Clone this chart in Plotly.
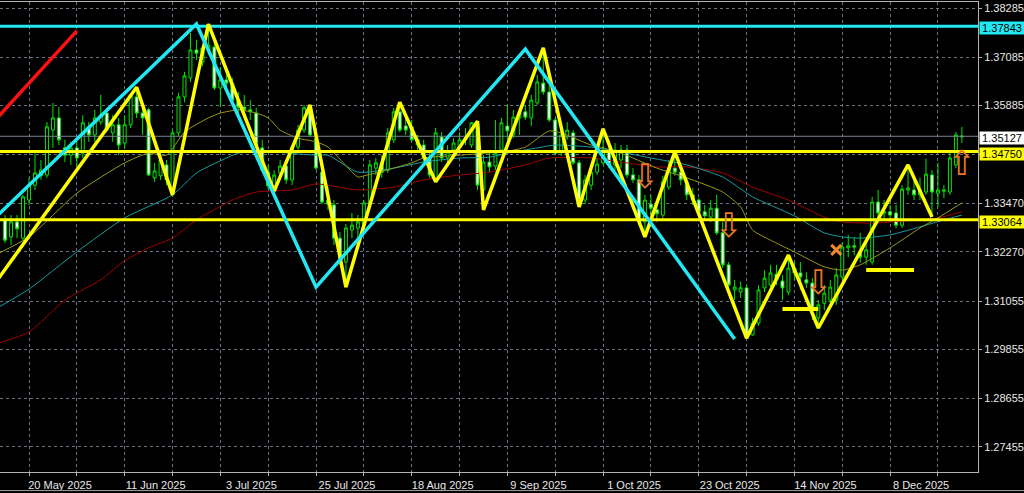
import pandas as pd
import plotly.graph_objects as go

# ---------------- data ----------------
first_bar = "2025-05-14"
opens = [1.3306,1.3264,1.3301,1.3261,1.3355,1.3392,1.3415,1.3417,1.3528,1.3558,
 1.3484,1.3466,1.3484,1.3471,1.3536,1.3516,1.3548,1.3570,1.3521,1.3541,
 1.3496,1.3541,1.3610,1.3570,1.3578,1.3410,1.3415,1.3442,1.3385,1.3521,
 1.3610,1.3657,1.3726,1.3696,1.3726,1.3733,1.3632,1.3652,1.3644,1.3602,
 1.3585,1.3578,1.3570,1.3484,1.3424,1.3390,1.3422,1.3439,1.3405,1.3486,
 1.3528,1.3578,1.3508,1.3424,1.3355,1.3343,1.3261,1.3202,1.3281,1.3286,
 1.3293,1.3348,1.3434,1.3447,1.3429,1.3504,1.3573,1.3538,1.3536,1.3504,
 1.3491,1.3461,1.3410,1.3511,1.3459,1.3479,1.3484,1.3504,1.3491,1.3541,
 1.3380,1.3449,1.3439,1.3479,1.3538,1.3516,1.3558,1.3573,1.3558,1.3595,
 1.3644,1.3622,1.3553,1.3474,1.3511,1.3521,1.3447,1.3355,1.3392,1.3424,
 1.3447,1.3474,1.3442,1.3454,1.3479,1.3417,1.3405,1.3301,1.3345,1.3331,
 1.3318,1.3387,1.3434,1.3424,1.3400,1.3368,1.3355,1.3326,1.3313,1.3335,
 1.3274,1.3195,1.3133,1.3128,1.3138,1.3022,1.3051,1.3138,1.3145,1.3172,
 1.3155,1.3128,1.3187,1.3175,1.3158,1.3150,1.3064,1.3100,1.3108,1.3108,
 1.3165,1.3237,1.3242,1.3224,1.3214,1.3202,1.3350,1.3323,1.3326,1.3323,
 1.3293,1.3380,1.3380,1.3368,1.3375,1.3417,1.3372,1.3377,1.3375,1.3442,
 1.3511]
highs = [1.3318,1.3318,1.3318,1.3368,1.3410,1.3471,1.3454,1.3548,1.3595,1.3585,
 1.3504,1.3499,1.3499,1.3565,1.3548,1.3578,1.3615,1.3583,1.3565,1.3558,
 1.3565,1.3620,1.3634,1.3590,1.3583,1.3447,1.3479,1.3454,1.3528,1.3620,
 1.3672,1.3768,1.3751,1.3738,1.3790,1.3751,1.3684,1.3664,1.3657,1.3622,
 1.3615,1.3602,1.3583,1.3504,1.3442,1.3429,1.3454,1.3454,1.3491,1.3541,
 1.3590,1.3590,1.3516,1.3434,1.3387,1.3355,1.3276,1.3296,1.3323,1.3318,
 1.3355,1.3454,1.3459,1.3466,1.3533,1.3583,1.3597,1.3558,1.3553,1.3516,
 1.3504,1.3479,1.3533,1.3523,1.3491,1.3508,1.3523,1.3533,1.3548,1.3550,
 1.3466,1.3479,1.3553,1.3558,1.3590,1.3578,1.3583,1.3590,1.3615,1.3664,
 1.3731,1.3639,1.3558,1.3533,1.3548,1.3528,1.3454,1.3417,1.3442,1.3459,
 1.3531,1.3504,1.3496,1.3491,1.3491,1.3434,1.3417,1.3368,1.3368,1.3355,
 1.3415,1.3454,1.3474,1.3442,1.3410,1.3385,1.3360,1.3343,1.3355,1.3368,
 1.3301,1.3202,1.3158,1.3153,1.3145,1.3064,1.3145,1.3182,1.3195,1.3195,
 1.3170,1.3219,1.3202,1.3202,1.3177,1.3162,1.3108,1.3145,1.3158,1.3187,
 1.3251,1.3269,1.3264,1.3274,1.3256,1.3363,1.3380,1.3355,1.3343,1.3343,
 1.3392,1.3442,1.3405,1.3410,1.3457,1.3429,1.3447,1.3392,1.3479,1.3523,
 1.3536]
lows = [1.3249,1.3244,1.3261,1.3256,1.3343,1.3380,1.3405,1.3410,1.3484,1.3491,
 1.3449,1.3442,1.3434,1.3459,1.3499,1.3499,1.3541,1.3523,1.3499,1.3466,
 1.3484,1.3533,1.3558,1.3516,1.3415,1.3400,1.3405,1.3392,1.3368,1.3513,
 1.3597,1.3647,1.3701,1.3686,1.3714,1.3627,1.3585,1.3627,1.3590,1.3565,
 1.3565,1.3553,1.3484,1.3424,1.3382,1.3377,1.3405,1.3395,1.3392,1.3479,
 1.3521,1.3511,1.3429,1.3345,1.3331,1.3244,1.3195,1.3140,1.3261,1.3256,
 1.3276,1.3343,1.3417,1.3410,1.3422,1.3496,1.3523,1.3516,1.3499,1.3479,
 1.3449,1.3410,1.3400,1.3449,1.3447,1.3466,1.3474,1.3491,1.3484,1.3380,
 1.3331,1.3424,1.3429,1.3474,1.3504,1.3508,1.3516,1.3553,1.3538,1.3590,
 1.3615,1.3548,1.3466,1.3464,1.3504,1.3442,1.3338,1.3345,1.3380,1.3417,
 1.3442,1.3434,1.3429,1.3434,1.3410,1.3397,1.3293,1.3264,1.3311,1.3301,
 1.3311,1.3380,1.3415,1.3392,1.3355,1.3343,1.3318,1.3306,1.3301,1.3269,
 1.3187,1.3138,1.3108,1.3113,1.3014,1.3020,1.3044,1.3128,1.3133,1.3145,
 1.3108,1.3120,1.3158,1.3133,1.3138,1.3059,1.3039,1.3083,1.3100,1.3096,
 1.3158,1.3214,1.3219,1.3200,1.3195,1.3195,1.3311,1.3306,1.3301,1.3286,
 1.3286,1.3368,1.3355,1.3355,1.3368,1.3313,1.3338,1.3360,1.3368,1.3434,
 1.3496]
closes = [1.3256,1.3301,1.3284,1.3363,1.3392,1.3422,1.3429,1.3536,1.3558,1.3504,
 1.3466,1.3484,1.3459,1.3546,1.3516,1.3558,1.3565,1.3528,1.3541,1.3491,
 1.3541,1.3615,1.3570,1.3558,1.3417,1.3427,1.3454,1.3405,1.3521,1.3610,
 1.3662,1.3726,1.3718,1.3731,1.3738,1.3632,1.3652,1.3644,1.3602,1.3585,
 1.3578,1.3573,1.3491,1.3429,1.3390,1.3417,1.3439,1.3405,1.3486,1.3528,
 1.3583,1.3516,1.3434,1.3350,1.3345,1.3261,1.3212,1.3286,1.3293,1.3301,
 1.3348,1.3442,1.3447,1.3424,1.3521,1.3573,1.3528,1.3528,1.3504,1.3491,
 1.3459,1.3417,1.3521,1.3459,1.3474,1.3496,1.3504,1.3508,1.3546,1.3392,
 1.3449,1.3437,1.3471,1.3546,1.3526,1.3560,1.3570,1.3560,1.3602,1.3647,
 1.3622,1.3553,1.3471,1.3516,1.3528,1.3447,1.3355,1.3405,1.3424,1.3444,
 1.3479,1.3442,1.3479,1.3479,1.3417,1.3405,1.3301,1.3355,1.3335,1.3321,
 1.3400,1.3434,1.3424,1.3405,1.3368,1.3355,1.3326,1.3316,1.3335,1.3274,
 1.3195,1.3145,1.3140,1.3138,1.3022,1.3051,1.3133,1.3162,1.3175,1.3158,
 1.3138,1.3187,1.3175,1.3165,1.3150,1.3088,1.3096,1.3125,1.3140,1.3170,
 1.3239,1.3242,1.3239,1.3214,1.3232,1.3350,1.3323,1.3326,1.3318,1.3293,
 1.3382,1.3385,1.3368,1.3380,1.3419,1.3375,1.3380,1.3380,1.3459,1.3516,
 1.3513]

# moving averages
ma_fast_dates = ["2025-05-13","2025-05-20","2025-05-30","2025-06-11","2025-06-17","2025-06-20",
 "2025-06-25","2025-07-01","2025-07-03","2025-07-08","2025-07-11","2025-07-15","2025-07-17",
 "2025-07-22","2025-07-25","2025-07-29","2025-08-05","2025-08-06","2025-08-08","2025-08-13",
 "2025-08-18","2025-08-20","2025-08-28","2025-09-09","2025-09-12","2025-09-18","2025-09-22",
 "2025-09-29","2025-10-01","2025-10-06","2025-10-14","2025-10-21","2025-10-29","2025-11-03",
 "2025-11-05","2025-11-10","2025-11-14","2025-11-21","2025-11-26","2025-12-01","2025-12-08",
 "2025-12-15","2025-12-18","2025-12-24"]
ma_fast = [1.3224,1.3264,1.3372,1.3447,1.3471,1.3466,1.3523,1.3558,1.3570,1.3578,1.3570,1.3558,
 1.3528,1.3508,1.3499,1.3486,1.3412,1.3415,1.3422,1.3434,1.3447,1.3459,1.3466,1.3476,1.3486,
 1.3526,1.3521,1.3491,1.3484,1.3471,1.3434,1.3410,1.3375,1.3338,1.3281,1.3256,1.3227,1.3190,
 1.3182,1.3195,1.3237,1.3286,1.3311,1.3348]
ma_mid_dates = ["2025-05-13","2025-05-20","2025-05-30","2025-06-11","2025-06-23","2025-06-27",
 "2025-07-03","2025-07-08","2025-07-15","2025-07-25","2025-07-29","2025-08-05","2025-08-13",
 "2025-08-20","2025-08-28","2025-09-04","2025-09-09","2025-09-16","2025-09-19","2025-09-29",
 "2025-10-06","2025-10-13","2025-10-21","2025-10-29","2025-11-05","2025-11-14","2025-11-21",
 "2025-11-26","2025-12-01","2025-12-08","2025-12-15","2025-12-19","2025-12-24"]
ma_mid = [1.3091,1.3135,1.3227,1.3311,1.3368,1.3422,1.3452,1.3471,1.3474,1.3466,1.3466,1.3424,
 1.3434,1.3449,1.3459,1.3461,1.3471,1.3484,1.3491,1.3486,1.3474,1.3459,1.3442,1.3412,1.3363,
 1.3316,1.3274,1.3264,1.3261,1.3269,1.3289,1.3306,1.3318]
ma_slow_dates = ["2025-05-13","2025-05-20","2025-05-28","2025-06-05","2025-06-11","2025-06-17",
 "2025-06-23","2025-06-27","2025-07-07","2025-07-11","2025-07-21","2025-07-25","2025-08-05",
 "2025-08-13","2025-08-20","2025-08-28","2025-09-04","2025-09-12","2025-09-18","2025-09-29",
 "2025-10-06","2025-10-14","2025-10-21","2025-10-29","2025-11-05","2025-11-13","2025-11-21",
 "2025-11-26","2025-12-03","2025-12-10","2025-12-18","2025-12-24"]
ma_slow = [1.3002,1.3029,1.3108,1.3158,1.3205,1.3237,1.3261,1.3306,1.3355,1.3375,1.3380,1.3395,
 1.3380,1.3387,1.3405,1.3417,1.3424,1.3442,1.3459,1.3459,1.3449,1.3437,1.3437,1.3422,1.3387,
 1.3355,1.3313,1.3301,1.3298,1.3303,1.3311,1.3326]

# zigzags and drawn lines
zz_dates = ["2025-05-12","2025-06-13","2025-06-23","2025-07-01","2025-07-16","2025-07-24",
 "2025-08-01","2025-08-14","2025-08-22","2025-09-02","2025-09-03","2025-09-17","2025-09-25",
 "2025-10-01","2025-10-10","2025-10-17","2025-11-04","2025-11-13","2025-11-20","2025-12-11",
 "2025-12-17"]
zz_prices = [1.3143,1.3634,1.3368,1.3790,1.3377,1.3590,1.3140,1.3597,1.3400,1.3550,1.3331,
 1.3731,1.3338,1.3531,1.3264,1.3474,1.3014,1.3219,1.3039,1.3442,1.3313]
wzz_dates = ["2025-04-25","2025-06-27","2025-07-25","2025-09-12","2025-10-31"]
wzz_prices = [1.3150,1.3790,1.3140,1.3728,1.3012]
trend_dates = ["2025-05-09","2025-05-30"]
trend_prices = [1.3531,1.3773]

level_cyan = 1.37843
levels_yellow = [1.34750, 1.33064]
bid = 1.35127
seg_starts = ["2025-11-12","2025-12-02"]
seg_ends = ["2025-11-20","2025-12-12"]
seg_prices = [1.3086, 1.3182]

down_dates = ["2025-10-10","2025-10-30","2025-11-20"]
down_prices = [1.3405, 1.3284, 1.3143]
up_dates = ["2025-12-24"]
up_prices = [1.3437]
cross_dates = ["2025-11-25"]
cross_prices = [1.3232]

price_ticks = [1.38285,1.37085,1.35885,1.34685,1.33470,1.32270,1.31055,1.29855,1.28655,1.27455]
price_tick_text = ["1.38285","1.37085","1.35885","","1.33470","1.32270","1.31055","1.29855","1.28655","1.27455"]

# ---------------- figure ----------------
dates = pd.bdate_range("2025-04-25", "2026-01-02").strftime("%Y-%m-%d").tolist()
i0 = dates.index(first_bar)
n = len(opens)
bar_dates = dates[i0:i0 + n]

grid_dates = bar_dates[4::8]
grid_text = []
for k, d in enumerate(grid_dates):
    t = pd.Timestamp(d)
    grid_text.append(f"{t.day} {t.strftime('%b %Y')}" if k % 2 == 0 else "")

GREEN = "#00e600"
YELLOW = "#ffff00"
CYAN = "#22e8f4"
ORANGE = "#e8782a"

fig = go.Figure()
fig.add_trace(go.Scatter(x=ma_slow_dates, y=ma_slow, mode="lines",
                         line=dict(color="#a30000", width=1, shape="spline", smoothing=0.6)))
fig.add_trace(go.Scatter(x=ma_mid_dates, y=ma_mid, mode="lines",
                         line=dict(color="#139ea4", width=1, shape="spline", smoothing=0.6)))
fig.add_trace(go.Scatter(x=ma_fast_dates, y=ma_fast, mode="lines",
                         line=dict(color="#9a9a1a", width=1, shape="spline", smoothing=0.6)))
fig.add_trace(go.Scatter(x=[dates[0], dates[-1]], y=[bid, bid], mode="lines",
                         line=dict(color="#7a8494", width=1)))
fig.add_trace(go.Candlestick(x=bar_dates, open=opens, high=highs, low=lows, close=closes,
                             increasing=dict(line=dict(color=GREEN, width=1), fillcolor="black"),
                             decreasing=dict(line=dict(color=GREEN, width=1), fillcolor="white"),
                             whiskerwidth=0, hoverinfo="skip"))
for lv in levels_yellow:
    fig.add_trace(go.Scatter(x=[dates[0], dates[-1]], y=[lv, lv], mode="lines",
                             line=dict(color=YELLOW, width=3)))
fig.add_trace(go.Scatter(x=[dates[0], dates[-1]], y=[level_cyan, level_cyan], mode="lines",
                         line=dict(color=CYAN, width=3)))
for s, e, p in zip(seg_starts, seg_ends, seg_prices):
    fig.add_trace(go.Scatter(x=[s, e], y=[p, p], mode="lines", line=dict(color=YELLOW, width=4)))
fig.add_trace(go.Scatter(x=zz_dates, y=zz_prices, mode="lines", line=dict(color=YELLOW, width=3.5)))
fig.add_trace(go.Scatter(x=wzz_dates, y=wzz_prices, mode="lines", line=dict(color=CYAN, width=3.5)))
fig.add_trace(go.Scatter(x=trend_dates, y=trend_prices, mode="lines", line=dict(color="#ff1010", width=3.5)))
fig.add_trace(go.Scatter(x=down_dates, y=down_prices, mode="text", text=["⇩"] * len(down_dates),
                         textfont=dict(size=34, color=ORANGE, family="DejaVu Sans")))
fig.add_trace(go.Scatter(x=up_dates, y=up_prices, mode="text", text=["⇧"] * len(up_dates),
                         textfont=dict(size=34, color=ORANGE, family="DejaVu Sans")))
fig.add_trace(go.Scatter(x=cross_dates, y=cross_prices, mode="markers",
                         marker=dict(symbol="x-thin", size=10, line=dict(color="#f08a2a", width=3))))

grid_col = "#6a7480"
axis_col = "#b4b4b4"
fig.update_layout(
    width=1024, height=493, autosize=False,
    margin=dict(l=0, r=46, t=2, b=21, autoexpand=False),
    paper_bgcolor="black", plot_bgcolor="black",
    showlegend=False, hovermode=False,
    font=dict(family="Liberation Sans, Arial, sans-serif", size=11, color="#e8e8e8"),
    xaxis=dict(type="category", categoryorder="array", categoryarray=dates,
               range=[i0 - 0.85, i0 + 162.7], tickmode="array", tickvals=grid_dates, ticktext=grid_text,
               showgrid=True, gridcolor=grid_col, griddash="dot", gridwidth=1,
               showline=True, linecolor=axis_col, linewidth=1, mirror=True,
               ticks="outside", ticklen=3, tickcolor=axis_col, ticklabelshift=31,
               automargin=False, rangeslider=dict(visible=False), zeroline=False, fixedrange=True),
    yaxis=dict(side="right", range=[1.26831, 1.38445], tickmode="array",
               tickvals=price_ticks, ticktext=price_tick_text,
               showgrid=True, gridcolor=grid_col, griddash="dot", gridwidth=1,
               showline=True, linecolor=axis_col, linewidth=1, automargin=False,
               ticks="outside", ticklen=3, tickcolor=axis_col, zeroline=False, fixedrange=True),
)

for val, bg in [(level_cyan, CYAN), (bid, "#ffffff"), (levels_yellow[0], YELLOW), (levels_yellow[1], YELLOW)]:
    fig.add_annotation(x=1, xref="paper", xanchor="left", xshift=1, y=val, yref="y", yshift=-2,
                       text=f"{val:.5f}", showarrow=False, bgcolor=bg, width=44, height=12,
                       borderpad=0, font=dict(color="black", size=11))

fig.add_shape(type="line", xref="paper", yref="paper", x0=0, x1=1.05, y0=-0.0395, y1=-0.0395,
              line=dict(color="#a0a0a0", width=1))

fig.write_html("out.html", config={"displayModeBar": False},
               post_script="document.body.style.margin='0';document.body.style.background='black';")
